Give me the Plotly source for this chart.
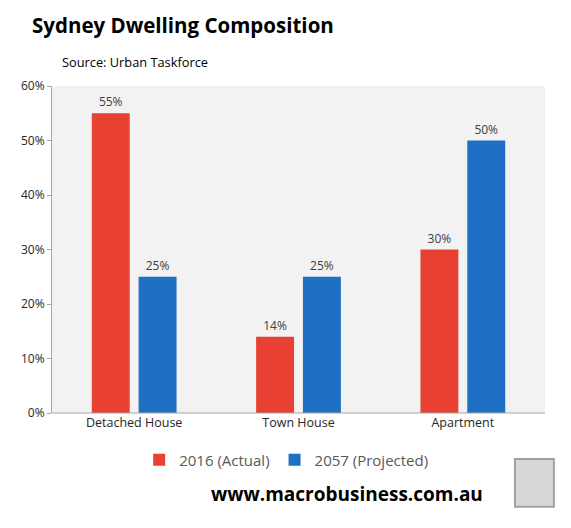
import plotly.graph_objects as go

categories = ["Detached House", "Town House", "Apartment"]
actual_2016 = [55, 14, 30]
projected_2057 = [25, 25, 50]
series_names = ["2016 (Actual)", "2057 (Projected)"]
y_ticks = [0, 10, 20, 30, 40, 50, 60]

red = "#E84033"
blue = "#1F6FC4"
font_family = "Open Sans, Lato, sans-serif"

fig = go.Figure()
for name, values, color in [(series_names[0], actual_2016, red),
                            (series_names[1], projected_2057, blue)]:
    fig.add_trace(go.Bar(
        x=categories,
        y=values,
        name=name,
        marker=dict(color=color, line=dict(width=0)),
        text=[f"{v}%" for v in values],
        textposition="outside",
        textfont=dict(size=12, color="#404040", family=font_family),
        cliponaxis=False,
    ))

# page body adds an 8px offset, so the figure is sized to fit the window
fig.update_layout(
    width=563,
    height=520,
    barmode="group",
    bargap=0.43,
    bargroupgap=0.19,
    plot_bgcolor="#F2F2F2",
    paper_bgcolor="white",
    margin=dict(l=44, r=26, t=78, b=115, autoexpand=False),
    font=dict(family=font_family, color="#404040"),
    xaxis=dict(
        automargin=False,
        showline=False,
        ticks="",
        tickfont=dict(size=12.5, color="#262626"),
    ),
    yaxis=dict(
        automargin=False,
        range=[0, 60],
        tickvals=y_ticks,
        ticktext=[f"{t}%" for t in y_ticks],
        showgrid=False,
        zeroline=False,
        showline=True,
        linecolor="#A6A6A6",
        linewidth=1,
        ticks="outside",
        ticklen=4,
        tickcolor="#A6A6A6",
        tickfont=dict(size=12, color="#262626"),
    ),
    legend=dict(
        orientation="h",
        x=0.475,
        xanchor="center",
        y=-0.144,
        yanchor="middle",
        font=dict(size=15, color="#595959"),
        itemwidth=30,
    ),
    showlegend=True,
)

# bottom axis line across the plot
fig.add_shape(type="line", xref="paper", yref="paper", x0=0, x1=1, y0=0, y1=0,
              line=dict(color="#A6A6A6", width=1))

fig.add_annotation(text="<b>Sydney Dwelling Composition</b>", xref="paper", yref="paper",
                   x=-0.0446, y=1.187, xanchor="left", yanchor="middle", showarrow=False,
                   font=dict(size=20.5, color="black", family=font_family))
fig.add_annotation(text="Source: Urban Taskforce", xref="paper", yref="paper",
                   x=0.016, y=1.073, xanchor="left", yanchor="middle", showarrow=False,
                   font=dict(size=12.8, color="black", family=font_family))
fig.add_annotation(text="<b>www.macrobusiness.com.au</b>", xref="paper", yref="paper",
                   x=0.598, y=-0.248, xanchor="center", yanchor="middle", showarrow=False,
                   font=dict(size=19, color="black", family=font_family))
# placeholder frame for the logo
fig.add_shape(type="rect", xref="paper", yref="paper", x0=0.939, x1=1.018, y0=-0.287, y1=-0.141,
              line=dict(color="#A0A0A0", width=2), fillcolor="#D8D8D8")

fig.write_html("out.html")
